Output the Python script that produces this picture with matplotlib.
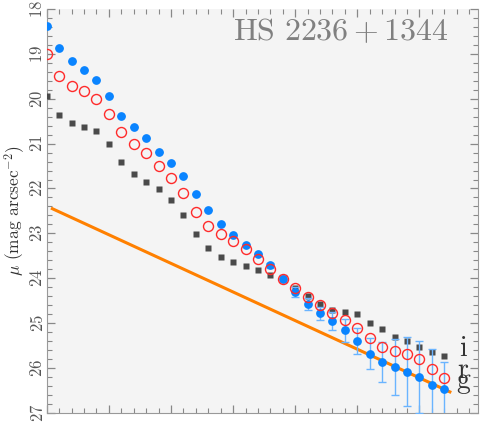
import matplotlib.pyplot as plt
from matplotlib.ticker import MultipleLocator
import numpy as np

plt.rcParams['mathtext.fontset'] = 'cm'
plt.rcParams['font.family'] = ['cmr10', 'DejaVu Serif']
plt.rcParams['axes.formatter.use_mathtext'] = True

# radius steps (arbitrary units, 0.2 spacing as on the x ticks)
radius = np.arange(33) * 0.2

# surface brightness profiles
mu_g = [18.37, 18.87, 19.15, 19.35, 19.58, 19.95, 20.38, 20.63, 20.88, 21.18,
        21.43, 21.73, 22.13, 22.48, 22.78, 23.03, 23.25, 23.47, 23.71, 24.01,
        24.31, 24.58, 24.78, 24.95, 25.16, 25.40, 25.68, 25.86, 25.98, 26.08,
        26.19, 26.38, 26.46]
err_g = [0, 0, 0, 0, 0, 0, 0, 0, 0, 0,
         0, 0, 0, 0, 0, 0, 0, 0, 0.05, 0.08,
         0.11, 0.13, 0.15, 0.20, 0.25, 0.29, 0.35, 0.45, 0.62, 0.77,
         0.80, 0.80, 0.59]
mu_r = [19.00, 19.49, 19.71, 19.83, 20.00, 20.33, 20.75, 21.00, 21.22, 21.50,
        21.76, 22.09, 22.52, 22.83, 23.02, 23.16, 23.35, 23.57, 23.80, 24.01,
        24.22, 24.42, 24.60, 24.77, 24.93, 25.11, 25.32, 25.52, 25.62, 25.68,
        25.80, 26.01, 26.21]
mu_i = [19.94, 20.37, 20.55, 20.62, 20.73, 21.02, 21.41, 21.67, 21.85, 22.02,
        22.25, 22.59, 23.02, 23.33, 23.52, 23.63, 23.72, 23.82, 23.93, 24.00,
        24.21, 24.39, 24.57, 24.71, 24.76, 24.79, 24.99, 25.14, 25.30, 25.39,
        25.54, 25.64, 25.73]

# exponential disk fit (straight line in mag)
fit_x = [0.09, 6.49]
fit_mu = [22.45, 26.53]

bands = ['i', 'r', 'g']
band_mu = [25.74, 26.21, 26.45]

fig = plt.figure(figsize=(4.82, 4.24), dpi=100)
ax = fig.add_axes([0.097, 0.026, 0.895, 0.953])
ax.set_facecolor('#f4f4f4')

ax.plot(fit_x, fit_mu, color='#ff8000', lw=2.2, zorder=2)

ax.plot(radius, mu_i, 's', color='#4a4a4a', ms=4.2, mec='none', zorder=3)
ax.errorbar(radius, mu_g, yerr=err_g, fmt='none', ecolor='#6ab4ff',
            elinewidth=1, capsize=3, capthick=1, zorder=3)
ax.plot(radius, mu_g, 'o', color='#0a84ff', ms=6.3, mec='none', zorder=4)
ax.plot(radius, mu_r, 'o', mfc='none', mec='#ff2a2a', ms=7.2, mew=1.0,
        zorder=5)

ax.text(0.932, 0.945, r'$\mathrm{HS\ 2236+1344}$', transform=ax.transAxes,
        ha='right', va='center', fontsize=23, color='#808080')
for lab, yv in zip(bands, band_mu):
    ax.text(6.7, yv, lab, ha='center', va='baseline', fontsize=20,
            color='#333333')

ax.set_xlim(0, 6.945)
ax.set_ylim(27, 18)
ax.xaxis.set_major_locator(MultipleLocator(1))
ax.xaxis.set_minor_locator(MultipleLocator(0.2))
ax.yaxis.set_major_locator(MultipleLocator(1))
ax.yaxis.set_minor_locator(MultipleLocator(0.2))
ax.tick_params(which='both', direction='in', top=True, right=True,
               color='#888888', labelbottom=False, labelcolor='#555555',
               labelsize=12)
ax.tick_params(which='major', length=6, width=0.9)
ax.tick_params(which='minor', length=3.5, width=0.8)
ax.tick_params(axis='y', which='major', pad=7)
for t in ax.get_yticklabels():
    t.set_rotation(90)
    t.set_va('center')
    t.set_ha('center')
for s in ax.spines.values():
    s.set_color('#999999')
ax.spines['top'].set_visible(False)

ax.set_ylabel(r'$\mu$ (mag arcsec$^{-2}$)', fontsize=12.5, color='#333333',
              va='center')
ax.yaxis.set_label_coords(-0.074, 0.5)

fig.savefig('out.png', dpi=100)
